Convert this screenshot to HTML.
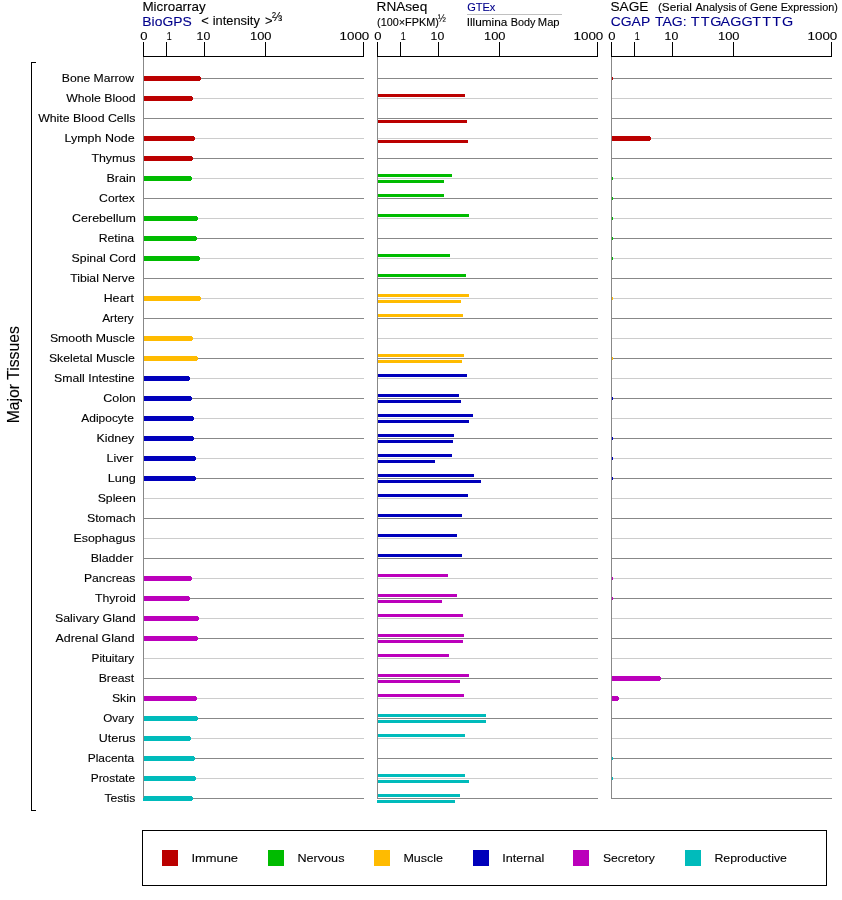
<!DOCTYPE html>
<html lang="en"><head><meta charset="utf-8"><title>Expression in Major Tissues</title>
<style>html,body{margin:0;padding:0;background:#fff}svg{display:block;will-change:transform}text{stroke-width:0.1px;font-family:'Liberation Sans', sans-serif}</style>
</head><body>
<svg width="842" height="900" viewBox="0 0 842 900">
<rect width="842" height="900" fill="#fff"/>
<g shape-rendering="crispEdges">
<rect x="143" y="78" width="221" height="1" fill="#888888"/>
<rect x="143" y="98" width="221" height="1" fill="#cccccc"/>
<rect x="143" y="118" width="221" height="1" fill="#888888"/>
<rect x="143" y="138" width="221" height="1" fill="#cccccc"/>
<rect x="143" y="158" width="221" height="1" fill="#888888"/>
<rect x="143" y="178" width="221" height="1" fill="#cccccc"/>
<rect x="143" y="198" width="221" height="1" fill="#888888"/>
<rect x="143" y="218" width="221" height="1" fill="#cccccc"/>
<rect x="143" y="238" width="221" height="1" fill="#888888"/>
<rect x="143" y="258" width="221" height="1" fill="#cccccc"/>
<rect x="143" y="278" width="221" height="1" fill="#888888"/>
<rect x="143" y="298" width="221" height="1" fill="#cccccc"/>
<rect x="143" y="318" width="221" height="1" fill="#888888"/>
<rect x="143" y="338" width="221" height="1" fill="#cccccc"/>
<rect x="143" y="358" width="221" height="1" fill="#888888"/>
<rect x="143" y="378" width="221" height="1" fill="#cccccc"/>
<rect x="143" y="398" width="221" height="1" fill="#888888"/>
<rect x="143" y="418" width="221" height="1" fill="#cccccc"/>
<rect x="143" y="438" width="221" height="1" fill="#888888"/>
<rect x="143" y="458" width="221" height="1" fill="#cccccc"/>
<rect x="143" y="478" width="221" height="1" fill="#888888"/>
<rect x="143" y="498" width="221" height="1" fill="#cccccc"/>
<rect x="143" y="518" width="221" height="1" fill="#888888"/>
<rect x="143" y="538" width="221" height="1" fill="#cccccc"/>
<rect x="143" y="558" width="221" height="1" fill="#888888"/>
<rect x="143" y="578" width="221" height="1" fill="#cccccc"/>
<rect x="143" y="598" width="221" height="1" fill="#888888"/>
<rect x="143" y="618" width="221" height="1" fill="#cccccc"/>
<rect x="143" y="638" width="221" height="1" fill="#888888"/>
<rect x="143" y="658" width="221" height="1" fill="#cccccc"/>
<rect x="143" y="678" width="221" height="1" fill="#888888"/>
<rect x="143" y="698" width="221" height="1" fill="#cccccc"/>
<rect x="143" y="718" width="221" height="1" fill="#888888"/>
<rect x="143" y="738" width="221" height="1" fill="#cccccc"/>
<rect x="143" y="758" width="221" height="1" fill="#888888"/>
<rect x="143" y="778" width="221" height="1" fill="#cccccc"/>
<rect x="143" y="798" width="221" height="1" fill="#888888"/>
<rect x="377" y="78" width="221" height="1" fill="#888888"/>
<rect x="377" y="98" width="221" height="1" fill="#cccccc"/>
<rect x="377" y="118" width="221" height="1" fill="#888888"/>
<rect x="377" y="138" width="221" height="1" fill="#cccccc"/>
<rect x="377" y="158" width="221" height="1" fill="#888888"/>
<rect x="377" y="178" width="221" height="1" fill="#cccccc"/>
<rect x="377" y="198" width="221" height="1" fill="#888888"/>
<rect x="377" y="218" width="221" height="1" fill="#cccccc"/>
<rect x="377" y="238" width="221" height="1" fill="#888888"/>
<rect x="377" y="258" width="221" height="1" fill="#cccccc"/>
<rect x="377" y="278" width="221" height="1" fill="#888888"/>
<rect x="377" y="298" width="221" height="1" fill="#cccccc"/>
<rect x="377" y="318" width="221" height="1" fill="#888888"/>
<rect x="377" y="338" width="221" height="1" fill="#cccccc"/>
<rect x="377" y="358" width="221" height="1" fill="#888888"/>
<rect x="377" y="378" width="221" height="1" fill="#cccccc"/>
<rect x="377" y="398" width="221" height="1" fill="#888888"/>
<rect x="377" y="418" width="221" height="1" fill="#cccccc"/>
<rect x="377" y="438" width="221" height="1" fill="#888888"/>
<rect x="377" y="458" width="221" height="1" fill="#cccccc"/>
<rect x="377" y="478" width="221" height="1" fill="#888888"/>
<rect x="377" y="498" width="221" height="1" fill="#cccccc"/>
<rect x="377" y="518" width="221" height="1" fill="#888888"/>
<rect x="377" y="538" width="221" height="1" fill="#cccccc"/>
<rect x="377" y="558" width="221" height="1" fill="#888888"/>
<rect x="377" y="578" width="221" height="1" fill="#cccccc"/>
<rect x="377" y="598" width="221" height="1" fill="#888888"/>
<rect x="377" y="618" width="221" height="1" fill="#cccccc"/>
<rect x="377" y="638" width="221" height="1" fill="#888888"/>
<rect x="377" y="658" width="221" height="1" fill="#cccccc"/>
<rect x="377" y="678" width="221" height="1" fill="#888888"/>
<rect x="377" y="698" width="221" height="1" fill="#cccccc"/>
<rect x="377" y="718" width="221" height="1" fill="#888888"/>
<rect x="377" y="738" width="221" height="1" fill="#cccccc"/>
<rect x="377" y="758" width="221" height="1" fill="#888888"/>
<rect x="377" y="778" width="221" height="1" fill="#cccccc"/>
<rect x="377" y="798" width="221" height="1" fill="#888888"/>
<rect x="611" y="78" width="221" height="1" fill="#888888"/>
<rect x="611" y="98" width="221" height="1" fill="#cccccc"/>
<rect x="611" y="118" width="221" height="1" fill="#888888"/>
<rect x="611" y="138" width="221" height="1" fill="#cccccc"/>
<rect x="611" y="158" width="221" height="1" fill="#888888"/>
<rect x="611" y="178" width="221" height="1" fill="#cccccc"/>
<rect x="611" y="198" width="221" height="1" fill="#888888"/>
<rect x="611" y="218" width="221" height="1" fill="#cccccc"/>
<rect x="611" y="238" width="221" height="1" fill="#888888"/>
<rect x="611" y="258" width="221" height="1" fill="#cccccc"/>
<rect x="611" y="278" width="221" height="1" fill="#888888"/>
<rect x="611" y="298" width="221" height="1" fill="#cccccc"/>
<rect x="611" y="318" width="221" height="1" fill="#888888"/>
<rect x="611" y="338" width="221" height="1" fill="#cccccc"/>
<rect x="611" y="358" width="221" height="1" fill="#888888"/>
<rect x="611" y="378" width="221" height="1" fill="#cccccc"/>
<rect x="611" y="398" width="221" height="1" fill="#888888"/>
<rect x="611" y="418" width="221" height="1" fill="#cccccc"/>
<rect x="611" y="438" width="221" height="1" fill="#888888"/>
<rect x="611" y="458" width="221" height="1" fill="#cccccc"/>
<rect x="611" y="478" width="221" height="1" fill="#888888"/>
<rect x="611" y="498" width="221" height="1" fill="#cccccc"/>
<rect x="611" y="518" width="221" height="1" fill="#888888"/>
<rect x="611" y="538" width="221" height="1" fill="#cccccc"/>
<rect x="611" y="558" width="221" height="1" fill="#888888"/>
<rect x="611" y="578" width="221" height="1" fill="#cccccc"/>
<rect x="611" y="598" width="221" height="1" fill="#888888"/>
<rect x="611" y="618" width="221" height="1" fill="#cccccc"/>
<rect x="611" y="638" width="221" height="1" fill="#888888"/>
<rect x="611" y="658" width="221" height="1" fill="#cccccc"/>
<rect x="611" y="678" width="221" height="1" fill="#888888"/>
<rect x="611" y="698" width="221" height="1" fill="#cccccc"/>
<rect x="611" y="718" width="221" height="1" fill="#888888"/>
<rect x="611" y="738" width="221" height="1" fill="#cccccc"/>
<rect x="611" y="758" width="221" height="1" fill="#888888"/>
<rect x="611" y="778" width="221" height="1" fill="#cccccc"/>
<rect x="611" y="798" width="221" height="1" fill="#888888"/>
</g>
<path d="M143 76H200V77H201V80H200V81H143Z" fill="#bb0000" shape-rendering="crispEdges"/>
<rect x="612" y="77" width="1" height="3" fill="#bb0000" shape-rendering="crispEdges"/>
<path d="M143 96H192V97H193V100H192V101H143Z" fill="#bb0000" shape-rendering="crispEdges"/>
<path d="M143 136H194V137H195V140H194V141H143Z" fill="#bb0000" shape-rendering="crispEdges"/>
<path d="M611 136H650V137H651V140H650V141H611Z" fill="#bb0000" shape-rendering="crispEdges"/>
<path d="M143 156H192V157H193V160H192V161H143Z" fill="#bb0000" shape-rendering="crispEdges"/>
<path d="M143 176H191V177H192V180H191V181H143Z" fill="#00bb00" shape-rendering="crispEdges"/>
<rect x="612" y="177" width="1" height="3" fill="#00bb00" shape-rendering="crispEdges"/>
<rect x="612" y="197" width="1" height="3" fill="#00bb00" shape-rendering="crispEdges"/>
<path d="M143 216H197V217H198V220H197V221H143Z" fill="#00bb00" shape-rendering="crispEdges"/>
<rect x="612" y="217" width="1" height="3" fill="#00bb00" shape-rendering="crispEdges"/>
<path d="M143 236H196V237H197V240H196V241H143Z" fill="#00bb00" shape-rendering="crispEdges"/>
<rect x="612" y="237" width="1" height="3" fill="#00bb00" shape-rendering="crispEdges"/>
<path d="M143 256H199V257H200V260H199V261H143Z" fill="#00bb00" shape-rendering="crispEdges"/>
<rect x="612" y="257" width="1" height="3" fill="#00bb00" shape-rendering="crispEdges"/>
<path d="M143 296H200V297H201V300H200V301H143Z" fill="#ffbb00" shape-rendering="crispEdges"/>
<rect x="612" y="297" width="1" height="3" fill="#ffbb00" shape-rendering="crispEdges"/>
<path d="M143 336H192V337H193V340H192V341H143Z" fill="#ffbb00" shape-rendering="crispEdges"/>
<path d="M143 356H197V357H198V360H197V361H143Z" fill="#ffbb00" shape-rendering="crispEdges"/>
<rect x="612" y="357" width="1" height="3" fill="#ffbb00" shape-rendering="crispEdges"/>
<path d="M143 376H189V377H190V380H189V381H143Z" fill="#0000bb" shape-rendering="crispEdges"/>
<path d="M143 396H191V397H192V400H191V401H143Z" fill="#0000bb" shape-rendering="crispEdges"/>
<rect x="612" y="397" width="1" height="3" fill="#0000bb" shape-rendering="crispEdges"/>
<path d="M143 416H193V417H194V420H193V421H143Z" fill="#0000bb" shape-rendering="crispEdges"/>
<path d="M143 436H193V437H194V440H193V441H143Z" fill="#0000bb" shape-rendering="crispEdges"/>
<rect x="612" y="437" width="1" height="3" fill="#0000bb" shape-rendering="crispEdges"/>
<path d="M143 456H195V457H196V460H195V461H143Z" fill="#0000bb" shape-rendering="crispEdges"/>
<rect x="612" y="457" width="1" height="3" fill="#0000bb" shape-rendering="crispEdges"/>
<path d="M143 476H195V477H196V480H195V481H143Z" fill="#0000bb" shape-rendering="crispEdges"/>
<rect x="612" y="477" width="1" height="3" fill="#0000bb" shape-rendering="crispEdges"/>
<path d="M143 576H191V577H192V580H191V581H143Z" fill="#bb00bb" shape-rendering="crispEdges"/>
<rect x="612" y="577" width="1" height="3" fill="#bb00bb" shape-rendering="crispEdges"/>
<path d="M143 596H189V597H190V600H189V601H143Z" fill="#bb00bb" shape-rendering="crispEdges"/>
<rect x="612" y="597" width="1" height="3" fill="#bb00bb" shape-rendering="crispEdges"/>
<path d="M143 616H198V617H199V620H198V621H143Z" fill="#bb00bb" shape-rendering="crispEdges"/>
<path d="M143 636H197V637H198V640H197V641H143Z" fill="#bb00bb" shape-rendering="crispEdges"/>
<path d="M611 676H660V677H661V680H660V681H611Z" fill="#bb00bb" shape-rendering="crispEdges"/>
<path d="M143 696H196V697H197V700H196V701H143Z" fill="#bb00bb" shape-rendering="crispEdges"/>
<path d="M611 696H618V697H619V700H618V701H611Z" fill="#bb00bb" shape-rendering="crispEdges"/>
<path d="M143 716H197V717H198V720H197V721H143Z" fill="#00bbbb" shape-rendering="crispEdges"/>
<path d="M143 736H190V737H191V740H190V741H143Z" fill="#00bbbb" shape-rendering="crispEdges"/>
<path d="M143 756H194V757H195V760H194V761H143Z" fill="#00bbbb" shape-rendering="crispEdges"/>
<rect x="612" y="757" width="1" height="3" fill="#00bbbb" shape-rendering="crispEdges"/>
<path d="M143 776H195V777H196V780H195V781H143Z" fill="#00bbbb" shape-rendering="crispEdges"/>
<rect x="612" y="777" width="1" height="3" fill="#00bbbb" shape-rendering="crispEdges"/>
<path d="M143 796H192V797H193V800H192V801H143Z" fill="#00bbbb" shape-rendering="crispEdges"/>
<g shape-rendering="crispEdges">
<rect x="377" y="94" width="88" height="3" fill="#bb0000"/>
<rect x="377" y="120" width="90" height="3" fill="#bb0000"/>
<rect x="377" y="140" width="91" height="3" fill="#bb0000"/>
<rect x="377" y="174" width="75" height="3" fill="#00bb00"/>
<rect x="377" y="180" width="67" height="3" fill="#00bb00"/>
<rect x="377" y="194" width="67" height="3" fill="#00bb00"/>
<rect x="377" y="214" width="92" height="3" fill="#00bb00"/>
<rect x="377" y="254" width="73" height="3" fill="#00bb00"/>
<rect x="377" y="274" width="89" height="3" fill="#00bb00"/>
<rect x="377" y="294" width="92" height="3" fill="#ffbb00"/>
<rect x="377" y="300" width="84" height="3" fill="#ffbb00"/>
<rect x="377" y="314" width="86" height="3" fill="#ffbb00"/>
<rect x="377" y="354" width="87" height="3" fill="#ffbb00"/>
<rect x="377" y="360" width="85" height="3" fill="#ffbb00"/>
<rect x="377" y="374" width="90" height="3" fill="#0000bb"/>
<rect x="377" y="394" width="82" height="3" fill="#0000bb"/>
<rect x="377" y="400" width="84" height="3" fill="#0000bb"/>
<rect x="377" y="414" width="96" height="3" fill="#0000bb"/>
<rect x="377" y="420" width="92" height="3" fill="#0000bb"/>
<rect x="377" y="434" width="77" height="3" fill="#0000bb"/>
<rect x="377" y="440" width="76" height="3" fill="#0000bb"/>
<rect x="377" y="454" width="75" height="3" fill="#0000bb"/>
<rect x="377" y="460" width="58" height="3" fill="#0000bb"/>
<rect x="377" y="474" width="97" height="3" fill="#0000bb"/>
<rect x="377" y="480" width="104" height="3" fill="#0000bb"/>
<rect x="377" y="494" width="91" height="3" fill="#0000bb"/>
<rect x="377" y="514" width="85" height="3" fill="#0000bb"/>
<rect x="377" y="534" width="80" height="3" fill="#0000bb"/>
<rect x="377" y="554" width="85" height="3" fill="#0000bb"/>
<rect x="377" y="574" width="71" height="3" fill="#bb00bb"/>
<rect x="377" y="594" width="80" height="3" fill="#bb00bb"/>
<rect x="377" y="600" width="65" height="3" fill="#bb00bb"/>
<rect x="377" y="614" width="86" height="3" fill="#bb00bb"/>
<rect x="377" y="634" width="87" height="3" fill="#bb00bb"/>
<rect x="377" y="640" width="86" height="3" fill="#bb00bb"/>
<rect x="377" y="654" width="72" height="3" fill="#bb00bb"/>
<rect x="377" y="674" width="92" height="3" fill="#bb00bb"/>
<rect x="377" y="680" width="83" height="3" fill="#bb00bb"/>
<rect x="377" y="694" width="87" height="3" fill="#bb00bb"/>
<rect x="377" y="714" width="109" height="3" fill="#00bbbb"/>
<rect x="377" y="720" width="109" height="3" fill="#00bbbb"/>
<rect x="377" y="734" width="88" height="3" fill="#00bbbb"/>
<rect x="377" y="774" width="88" height="3" fill="#00bbbb"/>
<rect x="377" y="780" width="92" height="3" fill="#00bbbb"/>
<rect x="377" y="794" width="83" height="3" fill="#00bbbb"/>
<rect x="377" y="800" width="78" height="3" fill="#00bbbb"/>
<rect x="143" y="57" width="1" height="741" fill="#888888"/>
<rect x="143" y="56" width="221" height="1" fill="#000"/>
<rect x="143" y="42" width="1" height="14" fill="#000"/>
<rect x="166" y="42" width="1" height="14" fill="#000"/>
<rect x="204" y="42" width="1" height="14" fill="#000"/>
<rect x="265" y="42" width="1" height="14" fill="#000"/>
<rect x="363" y="42" width="1" height="14" fill="#000"/>
<rect x="377" y="57" width="1" height="741" fill="#888888"/>
<rect x="377" y="56" width="221" height="1" fill="#000"/>
<rect x="377" y="42" width="1" height="14" fill="#000"/>
<rect x="400" y="42" width="1" height="14" fill="#000"/>
<rect x="438" y="42" width="1" height="14" fill="#000"/>
<rect x="499" y="42" width="1" height="14" fill="#000"/>
<rect x="597" y="42" width="1" height="14" fill="#000"/>
<rect x="611" y="57" width="1" height="741" fill="#888888"/>
<rect x="611" y="56" width="221" height="1" fill="#000"/>
<rect x="611" y="42" width="1" height="14" fill="#000"/>
<rect x="634" y="42" width="1" height="14" fill="#000"/>
<rect x="672" y="42" width="1" height="14" fill="#000"/>
<rect x="733" y="42" width="1" height="14" fill="#000"/>
<rect x="831" y="42" width="1" height="14" fill="#000"/>
<rect x="467" y="14" width="95" height="1" fill="#c0c0c0"/>
<rect x="31" y="62" width="1" height="749" fill="#000"/>
<rect x="31" y="62" width="5" height="1" fill="#000"/>
<rect x="31" y="810" width="5" height="1" fill="#000"/>
<rect x="142.5" y="830.5" width="684" height="55" fill="none" stroke="#000" stroke-width="1"/>
<rect x="162" y="850" width="16" height="16" fill="#bb0000"/>
<rect x="268" y="850" width="16" height="16" fill="#00bb00"/>
<rect x="374" y="850" width="16" height="16" fill="#ffbb00"/>
<rect x="473" y="850" width="16" height="16" fill="#0000bb"/>
<rect x="573" y="850" width="16" height="16" fill="#bb00bb"/>
<rect x="685" y="850" width="16" height="16" fill="#00bbbb"/>
</g>
<text transform="translate(142.38 11) scale(1.1182 1)" font-size="12" fill="#000000" stroke="#000000">Microarray</text>
<text transform="translate(142.34 25.5) scale(1.1574 1)" font-size="12" fill="#00008b" stroke="#00008b">BioGPS</text>
<text y="25" font-size="12" fill="#000000" stroke="#000000"><tspan x="201.23" textLength="7.56" lengthAdjust="spacingAndGlyphs">&lt;</tspan> <tspan x="212.70" textLength="47.14" lengthAdjust="spacingAndGlyphs">intensity</tspan> <tspan x="265.03" textLength="7.56" lengthAdjust="spacingAndGlyphs">&gt;</tspan></text>
<text transform="translate(272.06 20.6) scale(0.9722 1)" font-size="12.5" fill="#000000" stroke="#000000">⅔</text>
<text transform="translate(376.56 11) scale(1.1359 1)" font-size="12" fill="#000000" stroke="#000000">RNAseq</text>
<text transform="translate(377.02 25.6) scale(1.0870 1)" font-size="10" fill="#000000" stroke="#000000">(100×FPKM)</text>
<text transform="translate(437.76 22.2) scale(0.9625 1)" font-size="10.2" fill="#000000" stroke="#000000">½</text>
<text transform="translate(467.15 10.6) scale(1.1055 1)" font-size="10" fill="#00008b" stroke="#00008b">GTEx</text>
<text y="25.9" font-size="10" fill="#000000" stroke="#000000"><tspan x="466.67" textLength="40.70" lengthAdjust="spacingAndGlyphs">Illumina</tspan> <tspan x="510.75" textLength="24.70" lengthAdjust="spacingAndGlyphs">Body</tspan> <tspan x="537.82" textLength="21.79" lengthAdjust="spacingAndGlyphs">Map</tspan></text>
<text transform="translate(610.39 11) scale(1.1411 1)" font-size="12" fill="#000000" stroke="#000000">SAGE</text>
<text y="10.6" font-size="10" fill="#000000" stroke="#000000"><tspan x="657.97" textLength="33.90" lengthAdjust="spacingAndGlyphs">(Serial</tspan> <tspan x="695.50" textLength="40.91" lengthAdjust="spacingAndGlyphs">Analysis</tspan> <tspan x="738.85" textLength="7.82" lengthAdjust="spacingAndGlyphs">of</tspan> <tspan x="750.14" textLength="27.49" lengthAdjust="spacingAndGlyphs">Gene</tspan> <tspan x="780.65" textLength="57.19" lengthAdjust="spacingAndGlyphs">Expression)</tspan></text>
<text y="25.8" font-size="12" fill="#00008b" stroke="#00008b"><tspan x="610.78" textLength="39.16" lengthAdjust="spacingAndGlyphs">CGAP</tspan> <tspan x="654.91" textLength="31.71" lengthAdjust="spacingAndGlyphs">TAG:</tspan></text>
<text transform="translate(140.31 40) scale(1.3053 1)" font-size="10" fill="#000000" stroke="#000000">0</text>
<text transform="translate(166.73 40) scale(0.8914 1)" font-size="10" fill="#000000" stroke="#000000">1</text>
<text transform="translate(196.58 40) scale(1.2300 1)" font-size="10" fill="#000000" stroke="#000000">10</text>
<text transform="translate(250.03 40) scale(1.2903 1)" font-size="10" fill="#000000" stroke="#000000">100</text>
<text transform="translate(339.50 40) scale(1.3396 1)" font-size="10" fill="#000000" stroke="#000000">1000</text>
<text transform="translate(374.31 40) scale(1.3053 1)" font-size="10" fill="#000000" stroke="#000000">0</text>
<text transform="translate(400.73 40) scale(0.8914 1)" font-size="10" fill="#000000" stroke="#000000">1</text>
<text transform="translate(430.58 40) scale(1.2300 1)" font-size="10" fill="#000000" stroke="#000000">10</text>
<text transform="translate(484.03 40) scale(1.2903 1)" font-size="10" fill="#000000" stroke="#000000">100</text>
<text transform="translate(573.50 40) scale(1.3396 1)" font-size="10" fill="#000000" stroke="#000000">1000</text>
<text transform="translate(608.31 40) scale(1.3053 1)" font-size="10" fill="#000000" stroke="#000000">0</text>
<text transform="translate(634.73 40) scale(0.8914 1)" font-size="10" fill="#000000" stroke="#000000">1</text>
<text transform="translate(664.58 40) scale(1.2300 1)" font-size="10" fill="#000000" stroke="#000000">10</text>
<text transform="translate(718.03 40) scale(1.2903 1)" font-size="10" fill="#000000" stroke="#000000">100</text>
<text transform="translate(807.50 40) scale(1.3396 1)" font-size="10" fill="#000000" stroke="#000000">1000</text>
<text transform="translate(61.78 81.7) scale(1.1610 1)" font-size="10.5" fill="#000000" stroke="#000000">Bone Marrow</text>
<text transform="translate(66.15 101.7) scale(1.1694 1)" font-size="10.5" fill="#000000" stroke="#000000">Whole Blood</text>
<text transform="translate(38.15 121.7) scale(1.1739 1)" font-size="10.5" fill="#000000" stroke="#000000">White Blood Cells</text>
<text transform="translate(64.46 141.7) scale(1.1896 1)" font-size="10.5" fill="#000000" stroke="#000000">Lymph Node</text>
<text transform="translate(91.41 161.7) scale(1.1782 1)" font-size="10.5" fill="#000000" stroke="#000000">Thymus</text>
<text transform="translate(106.45 181.7) scale(1.1957 1)" font-size="10.5" fill="#000000" stroke="#000000">Brain</text>
<text transform="translate(99.12 201.7) scale(1.1570 1)" font-size="10.5" fill="#000000" stroke="#000000">Cortex</text>
<text transform="translate(72.11 221.7) scale(1.1867 1)" font-size="10.5" fill="#000000" stroke="#000000">Cerebellum</text>
<text transform="translate(98.68 241.7) scale(1.1695 1)" font-size="10.5" fill="#000000" stroke="#000000">Retina</text>
<text transform="translate(71.61 261.7) scale(1.1711 1)" font-size="10.5" fill="#000000" stroke="#000000">Spinal Cord</text>
<text transform="translate(70.21 281.7) scale(1.1608 1)" font-size="10.5" fill="#000000" stroke="#000000">Tibial Nerve</text>
<text transform="translate(103.67 301.7) scale(1.1758 1)" font-size="10.5" fill="#000000" stroke="#000000">Heart</text>
<text transform="translate(102.20 321.7) scale(1.1286 1)" font-size="10.5" fill="#000000" stroke="#000000">Artery</text>
<text transform="translate(49.91 341.7) scale(1.1727 1)" font-size="10.5" fill="#000000" stroke="#000000">Smooth Muscle</text>
<text transform="translate(48.92 361.7) scale(1.1683 1)" font-size="10.5" fill="#000000" stroke="#000000">Skeletal Muscle</text>
<text transform="translate(54.11 381.7) scale(1.1713 1)" font-size="10.5" fill="#000000" stroke="#000000">Small Intestine</text>
<text transform="translate(103.21 401.7) scale(1.1886 1)" font-size="10.5" fill="#000000" stroke="#000000">Colon</text>
<text transform="translate(81.30 421.7) scale(1.1397 1)" font-size="10.5" fill="#000000" stroke="#000000">Adipocyte</text>
<text transform="translate(96.47 441.7) scale(1.1791 1)" font-size="10.5" fill="#000000" stroke="#000000">Kidney</text>
<text transform="translate(106.46 461.7) scale(1.1862 1)" font-size="10.5" fill="#000000" stroke="#000000">Liver</text>
<text transform="translate(107.64 481.7) scale(1.2092 1)" font-size="10.5" fill="#000000" stroke="#000000">Lung</text>
<text transform="translate(97.72 501.7) scale(1.1651 1)" font-size="10.5" fill="#000000" stroke="#000000">Spleen</text>
<text transform="translate(86.91 521.7) scale(1.1801 1)" font-size="10.5" fill="#000000" stroke="#000000">Stomach</text>
<text transform="translate(73.47 541.7) scale(1.1805 1)" font-size="10.5" fill="#000000" stroke="#000000">Esophagus</text>
<text transform="translate(90.66 561.7) scale(1.1843 1)" font-size="10.5" fill="#000000" stroke="#000000">Bladder</text>
<text transform="translate(83.99 581.7) scale(1.1594 1)" font-size="10.5" fill="#000000" stroke="#000000">Pancreas</text>
<text transform="translate(95.01 601.7) scale(1.1634 1)" font-size="10.5" fill="#000000" stroke="#000000">Thyroid</text>
<text transform="translate(54.91 621.7) scale(1.1844 1)" font-size="10.5" fill="#000000" stroke="#000000">Salivary Gland</text>
<text transform="translate(55.50 641.7) scale(1.1797 1)" font-size="10.5" fill="#000000" stroke="#000000">Adrenal Gland</text>
<text transform="translate(91.51 661.7) scale(1.1270 1)" font-size="10.5" fill="#000000" stroke="#000000">Pituitary</text>
<text transform="translate(98.68 681.7) scale(1.1677 1)" font-size="10.5" fill="#000000" stroke="#000000">Breast</text>
<text transform="translate(111.92 701.7) scale(1.1688 1)" font-size="10.5" fill="#000000" stroke="#000000">Skin</text>
<text transform="translate(103.15 721.7) scale(1.1091 1)" font-size="10.5" fill="#000000" stroke="#000000">Ovary</text>
<text transform="translate(98.81 741.7) scale(1.1866 1)" font-size="10.5" fill="#000000" stroke="#000000">Uterus</text>
<text transform="translate(87.70 761.7) scale(1.1375 1)" font-size="10.5" fill="#000000" stroke="#000000">Placenta</text>
<text transform="translate(90.71 781.7) scale(1.1338 1)" font-size="10.5" fill="#000000" stroke="#000000">Prostate</text>
<text transform="translate(104.41 801.7) scale(1.1543 1)" font-size="10.5" fill="#000000" stroke="#000000">Testis</text>
<text transform="translate(191.38 862) scale(1.1250 1)" font-size="11.5" fill="#000000" stroke="#000000">Immune</text>
<text transform="translate(297.40 862) scale(1.0997 1)" font-size="11.5" fill="#000000" stroke="#000000">Nervous</text>
<text transform="translate(403.41 862) scale(1.0896 1)" font-size="11.5" fill="#000000" stroke="#000000">Muscle</text>
<text transform="translate(502.15 862) scale(1.0990 1)" font-size="11.5" fill="#000000" stroke="#000000">Internal</text>
<text transform="translate(602.97 862) scale(1.0550 1)" font-size="11.5" fill="#000000" stroke="#000000">Secretory</text>
<text transform="translate(714.43 862) scale(1.0717 1)" font-size="11.5" fill="#000000" stroke="#000000">Reproductive</text>
<text transform="translate(0 25.8) scale(1.2 1)" x="575.58 583.92 591.83 600.33 608.50 617.92 626.83 635.17 643.50 651.75" font-size="12" fill="#00008b" stroke="#00008b">TTGAGGTTTG</text>
<text transform="translate(19.3 423.3) rotate(-90) scale(0.985 1)" font-size="16" fill="#000" stroke="#000">Major Tissues</text>
</svg></body></html>
